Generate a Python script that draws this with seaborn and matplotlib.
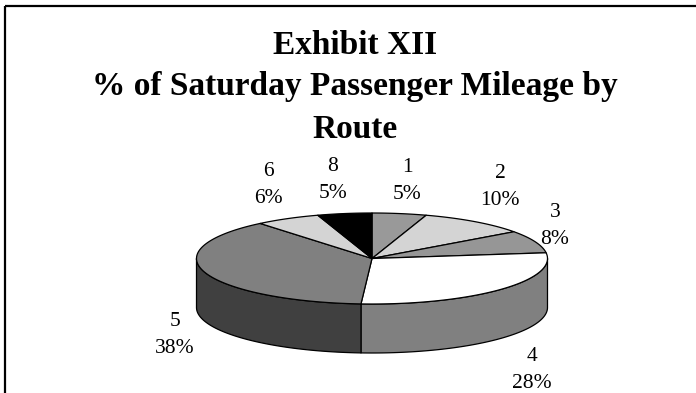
import numpy as np
import matplotlib
matplotlib.use("Agg")
import matplotlib.pyplot as plt
from matplotlib.patches import Polygon, Rectangle
import seaborn as sns

# Route shares of Saturday passenger mileage (percent)
routes = ["1", "2", "3", "4", "5", "6", "8"]
shares = [5, 10, 8, 28, 38, 6, 5]

title_lines = ["Exhibit XII", "% of Saturday Passenger Mileage by", "Route"]

# Slice fills (top face) and shaded side faces
top_colors = ["#999999", "#d4d4d4", "#969696", "#ffffff", "#808080", "#d4d4d4", "#000000"]
side_colors = ["#4c4c4c", "#6a6a6a", "#4b4b4b", "#808080", "#404040", "#6a6a6a", "#000000"]

# Where each slice label block sits (figure pixels)
label_xy = [(407, 181), (500, 187), (555, 226), (532, 370), (175, 335), (268, 185), (333, 180)]

sns.set_theme(style="white")
plt.rcParams["font.family"] = ["Liberation Serif", "DejaVu Serif"]

W, H = 696, 393
fig = plt.figure(figsize=(W / 100, H / 100), dpi=100)
ax = fig.add_axes([0, 0, 1, 1])
ax.set_xlim(0, W)
ax.set_ylim(H, 0)
ax.axis("off")

# Pie geometry: elliptical top face plus a cylindrical rim
cx, cy, rx, ry, depth = 372, 258.5, 175.5, 45.5, 49


def rim(t_deg, dy=0.0):
    t = np.radians(t_deg)
    return np.column_stack([cx + rx * np.sin(t), cy - ry * np.cos(t) + dy])


vals = np.array(shares, dtype=float)
edges = np.concatenate([[0], np.cumsum(vals) / vals.sum() * 360])

# Side faces on the visible (front) half of the cylinder
for i in range(len(vals)):
    a, b = max(edges[i], 90), min(edges[i + 1], 270)
    if b <= a:
        continue
    ts = np.linspace(a, b, 80)
    pts = np.vstack([rim(ts), rim(ts[::-1], depth)])
    ax.add_patch(Polygon(pts, closed=True, facecolor=side_colors[i],
                         edgecolor="black", linewidth=0.9, joinstyle="round"))

# Top face wedges
for i in range(len(vals)):
    ts = np.linspace(edges[i], edges[i + 1], 120)
    pts = np.vstack([[cx, cy], rim(ts)])
    ax.add_patch(Polygon(pts, closed=True, facecolor=top_colors[i],
                         edgecolor="black", linewidth=0.9, joinstyle="round"))

# Slice labels: route number over its share
for r, v, (lx, ly) in zip(routes, shares, label_xy):
    ax.text(lx, ly, f"{r}\n{v:g}%", ha="center", va="center",
            fontsize=15.5, linespacing=1.6, color="black")

# Title
for k, line in enumerate(title_lines):
    ax.text(355, 45 + 42 * k, line, ha="center", va="center",
            fontsize=24, fontweight="bold", color="black")

# Chart frame
ax.add_patch(Rectangle((5, 6), 720, 420, fill=False, edgecolor="black",
                       linewidth=1.6))

fig.savefig("out.png", dpi=100)
